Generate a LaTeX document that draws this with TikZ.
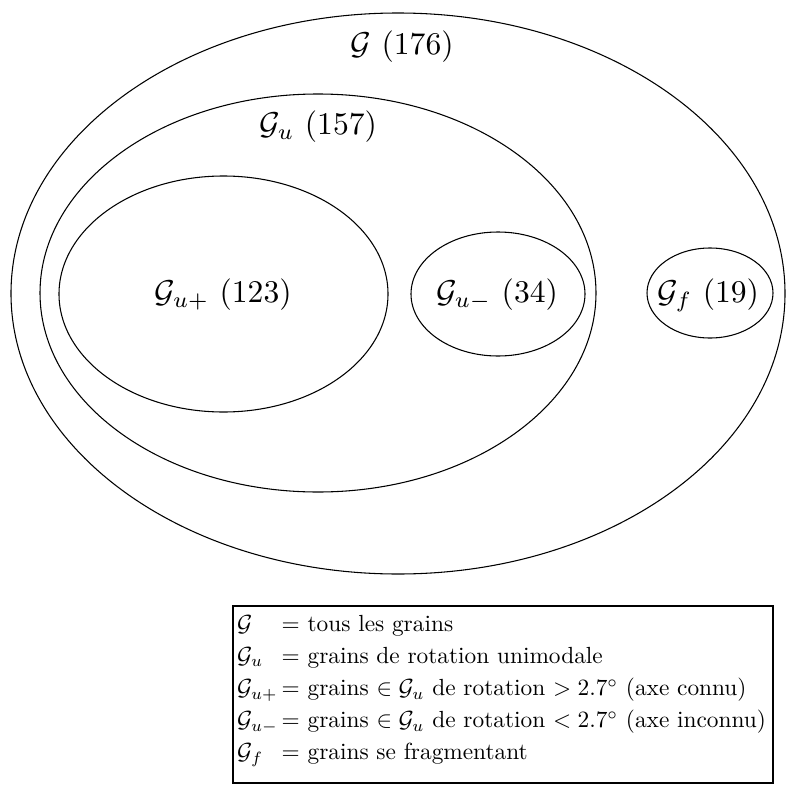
\documentclass[tikz,border=0pt]{standalone}
\usepackage{amsmath}
\usepackage{amssymb}
\usetikzlibrary{positioning}

\begin{document}
\begin{tikzpicture}[
    x=0.75pt, y=-0.75pt,
    set/.style={line width=0.8pt},
    setlabel/.style={font=\normalsize, inner sep=0pt, scale=2.37, transform shape},
    legendbox/.style={draw, line width=1.4pt, minimum width=405pt,
                      minimum height=132.75pt, inner sep=0pt}
  ]
  \useasboundingbox (0,0) rectangle (786,792);
  % ensembles de grains
  \draw[set] (398,293.5) ellipse [x radius=387, y radius=280.5];
  \draw[set] (318,293) ellipse [x radius=278, y radius=199];
  \draw[set] (223.5,294) ellipse [x radius=164.5, y radius=118];
  \draw[set] (498,294) ellipse [x radius=87, y radius=62];
  \draw[set] (710,293) ellipse [x radius=63, y radius=45];
  \node[setlabel] (lG) at (402,47) {$\mathcal{G}$ (176)};
  \node[setlabel] (lGu) at (318,127) {$\mathcal{G}_u$ (157)};
  \node[setlabel] (lGup) at (223,295) {$\mathcal{G}_{u+}$ (123)};
  \node[setlabel] (lGum) at (497,295) {$\mathcal{G}_{u-}$ (34)};
  \node[setlabel] (lGf) at (708,295) {$\mathcal{G}_f$ (19)};
  % legende
  \node[legendbox, anchor=north west] (legend) at (232,605) {};
  \node[anchor=west, inner sep=0pt, scale=1.75, transform shape,
        font=\fontsize{10}{13.8}\selectfont]
    (legendtext) at ([xshift=3.5pt, yshift=4pt]legend.west) {%
    \begin{tabular}{@{}l@{\,}l@{}}
      $\mathcal{G}$ & $=$ tous les grains\\
      $\mathcal{G}_u$ & $=$ grains de rotation unimodale\\
      $\mathcal{G}_{u+}$ & $=$ grains $\in\mathcal{G}_u$ de rotation $>2.7^\circ$ (axe connu)\\
      $\mathcal{G}_{u-}$ & $=$ grains $\in\mathcal{G}_u$ de rotation $<2.7^\circ$ (axe inconnu)\\
      $\mathcal{G}_f$ & $=$ grains se fragmentant
    \end{tabular}};
\end{tikzpicture}
\end{document}
